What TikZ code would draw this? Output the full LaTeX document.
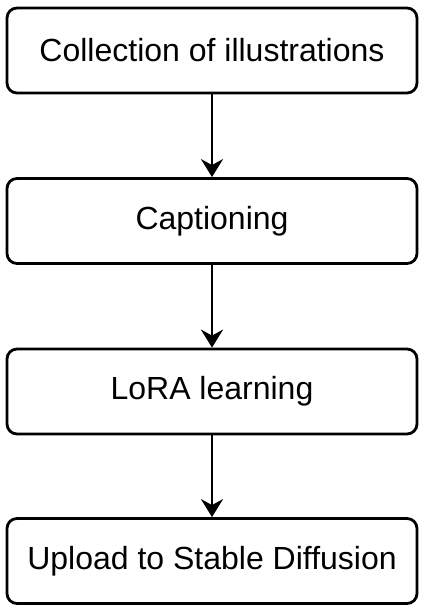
\documentclass[tikz,border=0pt]{standalone}
\usepackage{fontspec}
\setmainfont{Liberation Sans}
\usetikzlibrary{arrows.meta}
\begin{document}
\begin{tikzpicture}[x=1pt,y=-1pt,
  stepbox/.style={draw, line width=2.8pt, rounded corners=10pt, minimum width=410pt, minimum height=85pt, inner sep=0pt, font=\fontsize{32}{36}\selectfont},
  flow/.style={line width=2.8pt, -{Stealth[length=18pt,width=22pt,inset=6pt]}}]
\useasboundingbox (0,0) rectangle (424,608);
\fill[white] (0,0) rectangle (424,608);
\node[stepbox] (a) at (212,50.5) {Collection of illustrations};
\node[stepbox] (b) at (212,221) {Captioning};
\node[stepbox] (c) at (212,391.5) {LoRA learning};
\node[stepbox] (d) at (212,561) {Upload to Stable Diffusion};
\draw[flow] (a) -- (b);
\draw[flow] (b) -- (c);
\draw[flow] (c) -- (d);
\end{tikzpicture}
\end{document}
